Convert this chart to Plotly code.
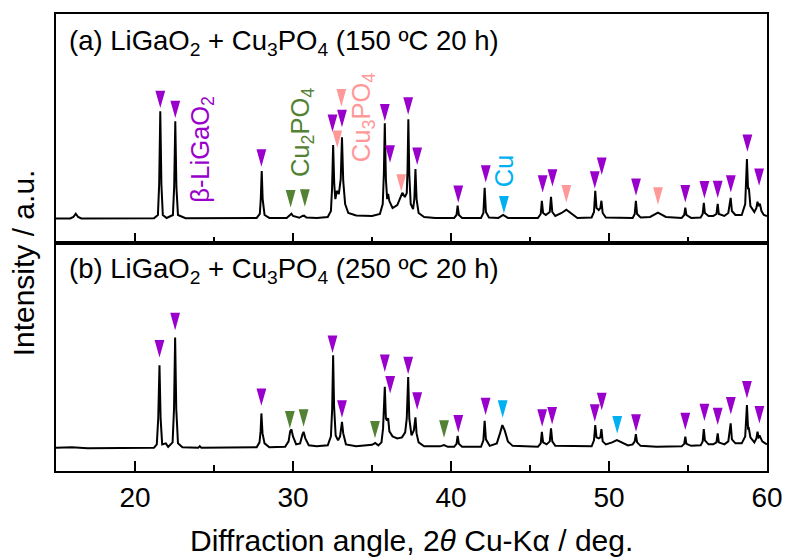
import plotly.graph_objects as go

# ---------------- data ----------------
# (a) 150 C 20 h pattern: 2theta (deg) and intensity (a.u.)
a_x = [15.0, 15.9, 16.1, 16.25, 16.4, 16.6, 21.2, 21.45, 21.53, 21.6, 21.67, 21.76, 22.0, 22.4, 22.48, 22.55,
       22.62, 22.72, 23.2, 27.7, 27.9, 27.96, 28.02, 28.08, 28.2, 28.5, 29.6, 29.8, 29.9, 30.0, 30.4, 30.6,
       30.7, 30.85, 31.5, 32.2, 32.4, 32.47, 32.54, 32.61, 32.68, 32.78, 32.9, 33.02, 33.1, 33.18, 33.3, 33.5,
       34.0, 35.0, 35.5, 35.68, 35.75, 35.81, 35.88, 35.96, 36.02, 36.1, 36.3, 36.6, 36.8, 36.92, 37.08, 37.2,
       37.25, 37.3, 37.36, 37.45, 37.6, 37.68, 37.75, 37.82, 37.95, 38.3, 39.0, 40.2, 40.35, 40.42, 40.5, 40.7,
       41.9, 42.05, 42.13, 42.21, 42.4, 43.0, 43.3, 43.6, 45.5, 45.68, 45.75, 45.83, 46.0, 46.25, 46.33, 46.41,
       46.6, 47.0, 47.3, 47.6, 48.0, 48.9, 49.05, 49.13, 49.21, 49.35, 49.45, 49.52, 49.6, 49.8, 51.5, 51.63,
       51.7, 51.78, 52.0, 52.6, 53.1, 53.6, 54.6, 54.76, 54.83, 54.9, 55.2, 55.8, 55.93, 56.0, 56.07, 56.3,
       56.6, 56.8, 56.88, 56.95, 57.3, 57.55, 57.7, 57.78, 58.0, 58.4, 58.62, 58.73, 58.8, 58.85, 58.95, 59.2,
       59.33, 59.4, 59.47, 59.55, 59.65, 59.8, 60.0]
a_y = [5, 5, 20, 53, 20, 5, 8, 40, 350, 1083, 350, 40, 10, 40, 330, 983,
       320, 40, 8, 10, 50, 200, 483, 200, 40, 10, 10, 35, 53, 30, 12, 30,
       33, 15, 10, 20, 80, 300, 743, 350, 200, 283, 250, 400, 823, 380, 150, 60,
       35, 30, 50, 150, 450, 963, 400, 200, 253, 180, 110, 140, 230, 263, 220, 260,
       500, 1003, 450, 150, 100, 200, 503, 200, 60, 20, 10, 10, 40, 133, 40, 10,
       10, 60, 313, 70, 15, 10, 40, 10, 10, 50, 183, 60, 40, 70, 223, 70,
       30, 60, 93, 55, 10, 15, 70, 283, 110, 90, 110, 183, 60, 15, 10, 50,
       183, 50, 15, 20, 63, 20, 10, 40, 113, 40, 10, 15, 50, 163, 60, 30,
       30, 50, 153, 50, 30, 60, 213, 80, 40, 40, 150, 603, 300, 313, 130, 70,
       110, 173, 130, 153, 80, 40, 30]

# (b) 250 C 20 h pattern
b_x = [15.0, 16.0, 17.0, 20.0, 21.2, 21.38, 21.47, 21.55, 21.62, 21.72, 21.95, 22.1, 22.38, 22.47, 22.54, 22.61,
       22.72, 23.0, 24.0, 24.1, 24.2, 27.7, 27.88, 27.95, 28.0, 28.07, 28.2, 28.5, 29.5, 29.72, 29.82, 29.9,
       30.0, 30.2, 30.45, 30.6, 30.67, 30.78, 31.0, 31.5, 32.2, 32.4, 32.48, 32.54, 32.6, 32.7, 32.85, 32.98,
       33.05, 33.1, 33.18, 33.35, 34.0, 34.5, 35.0, 35.2, 35.4, 35.6, 35.7, 35.81, 35.88, 35.95, 36.02, 36.1,
       36.3, 36.6, 36.9, 37.1, 37.2, 37.29, 37.36, 37.5, 37.65, 37.75, 37.82, 37.95, 38.3, 39.3, 39.56, 39.8,
       40.2, 40.35, 40.42, 40.5, 40.7, 41.9, 42.05, 42.13, 42.21, 42.45, 42.9, 43.1, 43.25, 43.4, 43.6, 43.9,
       45.5, 45.68, 45.75, 45.83, 46.05, 46.25, 46.33, 46.41, 46.6, 48.9, 49.05, 49.13, 49.21, 49.35, 49.45, 49.52,
       49.6, 49.8, 50.2, 50.5, 50.8, 51.2, 51.5, 51.63, 51.7, 51.78, 52.0, 53.0, 54.6, 54.76, 54.83, 54.9,
       55.2, 55.8, 55.93, 56.0, 56.07, 56.3, 56.6, 56.8, 56.88, 56.95, 57.3, 57.55, 57.7, 57.78, 58.0, 58.4,
       58.62, 58.73, 58.8, 58.85, 58.95, 59.2, 59.33, 59.4, 59.47, 59.55, 59.7, 60.0]
b_y = [5, 10, 0, 0, 5, 40, 300, 833, 300, 40, 50, 15, 60, 400, 1110, 400,
       50, 10, 5, 22, 5, 10, 60, 170, 350, 150, 50, 10, 15, 70, 170, 190,
       120, 40, 50, 140, 166, 100, 30, 20, 30, 120, 400, 933, 420, 130, 80, 120,
       230, 266, 150, 40, 20, 30, 35, 53, 30, 60, 200, 616, 300, 280, 303, 170,
       120, 100, 110, 160, 300, 716, 300, 130, 180, 310, 150, 60, 20, 20, 33, 15,
       15, 45, 126, 45, 15, 15, 80, 276, 90, 25, 50, 150, 233, 180, 70, 25,
       15, 50, 166, 60, 40, 70, 200, 70, 25, 20, 80, 233, 110, 100, 110, 193,
       70, 40, 60, 83, 60, 30, 40, 70, 143, 60, 25, 15, 20, 45, 116, 45,
       25, 30, 70, 193, 80, 40, 40, 60, 150, 60, 40, 70, 250, 90, 50, 50,
       120, 433, 200, 203, 110, 60, 100, 166, 110, 120, 70, 40]

# phase markers: 2theta of marker and intensity level of its tip
a_lgo_x = [21.6, 22.55, 28.0, 32.5, 33.1, 35.81, 36.14, 37.29, 37.86, 40.46, 42.2, 45.8, 46.42, 49.1, 49.54,
           51.71, 54.83, 56.04, 56.88, 57.71, 58.76, 59.5]
a_lgo_y = [1116, 1016, 526, 876, 923, 983, 566, 1050, 543, 163, 366, 266, 326, 306, 443,
           233, 166, 206, 210, 266, 676, 333]
a_cu2_x = [29.85, 30.75]
a_cu2_y = [116, 123]
a_cu3_x = [33.06, 32.8, 36.85, 47.3, 53.1]
a_cu3_y = [1133, 716, 276, 166, 143]
a_cu_x = [43.35]
a_cu_y = [56]

b_lgo_x = [21.55, 22.54, 28.0, 32.5, 33.1, 35.81, 36.15, 37.29, 37.86, 40.46, 42.19, 45.77, 46.4, 49.1, 49.54,
           51.71, 54.83, 56.04, 56.88, 57.71, 58.73, 59.52]
b_lgo_y = [910, 1183, 426, 956, 306, 766, 550, 743, 388, 160, 333, 216, 240, 266, 383,
           166, 183, 273, 233, 340, 500, 250]
b_cu2_x = [29.8, 30.67, 35.19, 39.56]
b_cu2_y = [200, 216, 100, 106]
b_cu_x = [43.27, 50.52]
b_cu_y = [306, 150]

tick_vals = [20, 30, 40, 50, 60]
tick_text = ["20", "30", "40", "50", "60"]

# ---------------- styling ----------------
PURPLE = "#9900CC"
GREEN = "#548235"
SALMON = "#FF9999"
CYAN = "#00B0F0"
FONT = "Arial, Liberation Sans, sans-serif"
TRI_HALF_W = 0.31   # deg
TRI_H = 175         # a.u.


def triangles(xs, ys, color, xa, ya):
    px, py = [], []
    for x, y in zip(xs, ys):
        px += [x - TRI_HALF_W, x + TRI_HALF_W, x, None]
        py += [y + TRI_H, y + TRI_H, y, None]
    return go.Scatter(x=px, y=py, mode="lines", fill="toself", fillcolor=color,
                      line=dict(width=0, color=color), xaxis=xa, yaxis=ya,
                      hoverinfo="skip", showlegend=False)


fig = go.Figure()
fig.add_trace(go.Scatter(x=a_x, y=a_y, mode="lines", line=dict(color="black", width=2),
                         xaxis="x2", yaxis="y2", showlegend=False))
fig.add_trace(go.Scatter(x=b_x, y=b_y, mode="lines", line=dict(color="black", width=2),
                         xaxis="x", yaxis="y", showlegend=False))

for xs, ys, c in [(a_lgo_x, a_lgo_y, PURPLE), (a_cu2_x, a_cu2_y, GREEN),
                  (a_cu3_x, a_cu3_y, SALMON), (a_cu_x, a_cu_y, CYAN)]:
    fig.add_trace(triangles(xs, ys, c, "x2", "y2"))
for xs, ys, c in [(b_lgo_x, b_lgo_y, PURPLE), (b_cu2_x, b_cu2_y, GREEN),
                  (b_cu_x, b_cu_y, CYAN)]:
    fig.add_trace(triangles(xs, ys, c, "x", "y"))

axis_common = dict(range=[15, 60], showline=True, linecolor="black", linewidth=2, mirror=True,
                   ticks="inside", ticklen=10, tickwidth=1.5, tickcolor="black",
                   tickvals=tick_vals, ticktext=tick_text, showgrid=False, zeroline=False,
                   minor=dict(ticks="inside", ticklen=6, tickwidth=1.5, tickcolor="black",
                              dtick=5, tick0=15, showgrid=False))

fig.update_layout(
    width=795, height=560,
    margin=dict(l=56, r=20, t=12, b=89),
    paper_bgcolor="white", plot_bgcolor="white",
    font=dict(family=FONT, color="black"),
    xaxis=dict(**axis_common, anchor="y", showticklabels=True,
               tickfont=dict(size=28, family=FONT, color="black")),
    yaxis=dict(domain=[0, 0.5], range=[-227, 2063], showline=True, linecolor="black", linewidth=2,
               mirror=True, showticklabels=False, ticks="", showgrid=False, zeroline=False),
    xaxis2=dict(**axis_common, anchor="y2", showticklabels=False),
    yaxis2=dict(domain=[0.5, 1], range=[-237, 2063], showline=True, linecolor="black", linewidth=2,
                mirror=True, showticklabels=False, ticks="", showgrid=False, zeroline=False),
)

ann = []
# panel titles
ann.append(dict(text="(a) LiGaO<sub>2</sub> + Cu<sub>3</sub>PO<sub>4</sub> (150 ºC 20 h)",
                x=15.7, y=1773, xref="x2", yref="y2", xanchor="left", yanchor="middle",
                showarrow=False, font=dict(size=27.5, family=FONT, color="black")))
ann.append(dict(text="(b) LiGaO<sub>2</sub> + Cu<sub>3</sub>PO<sub>4</sub> (250 ºC 20 h)",
                x=15.7, y=1783, xref="x", yref="y", xanchor="left", yanchor="middle",
                showarrow=False, font=dict(size=27.5, family=FONT, color="black")))
# phase labels
for txt, x, y, c in [("β-LiGaO<sub>2</sub>", 24.22, 703, PURPLE),
                     ("Cu<sub>2</sub>PO<sub>4</sub>", 30.56, 873, GREEN),
                     ("Cu<sub>3</sub>PO<sub>4</sub>", 34.42, 1023, SALMON),
                     ("Cu", 43.38, 483, CYAN)]:
    ann.append(dict(text=txt, x=x, y=y, xref="x2", yref="y2", textangle=-90,
                    xanchor="center", yanchor="middle", showarrow=False,
                    font=dict(size=25.5, family=FONT, color=c)))
# axis titles
ann.append(dict(text="Diffraction angle, 2<i>θ</i> Cu-Kα / deg.", x=0.5, y=-0.1525,
                xref="paper", yref="paper", xanchor="center", yanchor="middle", showarrow=False,
                font=dict(size=30, family=FONT, color="black")))
ann.append(dict(text="Intensity / a.u.", x=-0.046, y=0.455, xref="paper", yref="paper",
                textangle=-90, xanchor="center", yanchor="middle", showarrow=False,
                font=dict(size=30, family=FONT, color="black")))
fig.update_layout(annotations=ann)

fig.write_html("out.html")
